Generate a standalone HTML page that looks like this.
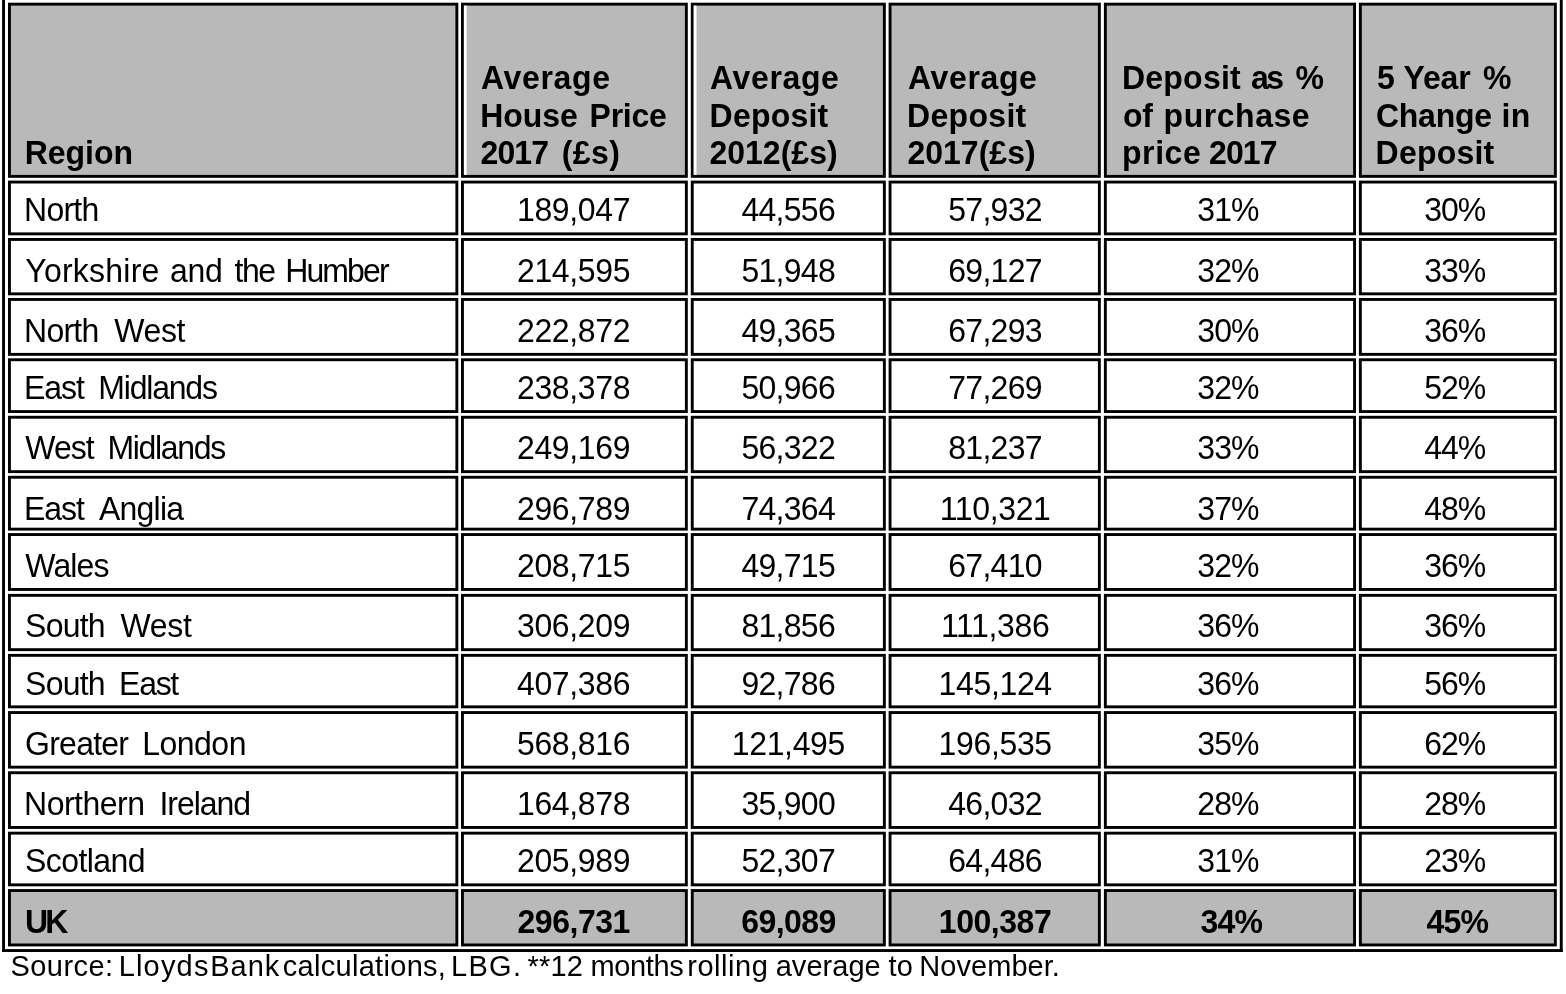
<!DOCTYPE html>
<html lang="en"><head><meta charset="utf-8"><title>Average deposit by region</title>
<style>
html,body{margin:0;padding:0;background:#fff;overflow:hidden}
svg{display:block}
text{font-family:"Liberation Sans",Arial,Helvetica,sans-serif;fill:#000;white-space:pre}
.b{font-weight:bold}
</style></head><body>
<svg width="1566" height="994" viewBox="0 0 1566 994">
<rect width="1566" height="994" fill="#fff"/>
<g fill="#000">
<rect x="2.1" y="0" width="2.9" height="952"/>
<rect x="1559.8" y="0" width="2.9" height="952"/>
<rect x="2.1" y="949.1" width="1560.6" height="2.9"/>
</g>
<rect x="8.0" y="2.7" width="450.3" height="175.1" fill="#000"/><rect x="10.9" y="5.6" width="444.5" height="169.3" fill="#b9b9b9"/>
<rect x="461.0" y="2.7" width="226.8" height="175.1" fill="#000"/><rect x="463.9" y="5.6" width="221.0" height="169.3" fill="#b9b9b9"/>
<rect x="463.9" y="5.6" width="2.8" height="169.3" fill="#fff"/>
<rect x="690.8" y="2.7" width="195.0" height="175.1" fill="#000"/><rect x="693.7" y="5.6" width="189.2" height="169.3" fill="#b9b9b9"/>
<rect x="693.7" y="5.6" width="2.8" height="169.3" fill="#fff"/>
<rect x="888.6" y="2.7" width="212.2" height="175.1" fill="#000"/><rect x="891.5" y="5.6" width="206.4" height="169.3" fill="#b9b9b9"/>
<rect x="1103.9" y="2.7" width="252.1" height="175.1" fill="#000"/><rect x="1106.8" y="5.6" width="246.3" height="169.3" fill="#b9b9b9"/>
<rect x="1358.9" y="2.7" width="197.9" height="175.1" fill="#000"/><rect x="1361.8" y="5.6" width="192.1" height="169.3" fill="#b9b9b9"/>
<rect x="8.0" y="180.6" width="450.3" height="54.7" fill="#000"/><rect x="10.9" y="183.5" width="444.5" height="48.9" fill="#fff"/>
<rect x="461.0" y="180.6" width="226.8" height="54.7" fill="#000"/><rect x="463.9" y="183.5" width="221.0" height="48.9" fill="#fff"/>
<rect x="690.8" y="180.6" width="195.0" height="54.7" fill="#000"/><rect x="693.7" y="183.5" width="189.2" height="48.9" fill="#fff"/>
<rect x="888.6" y="180.6" width="212.2" height="54.7" fill="#000"/><rect x="891.5" y="183.5" width="206.4" height="48.9" fill="#fff"/>
<rect x="1103.9" y="180.6" width="252.1" height="54.7" fill="#000"/><rect x="1106.8" y="183.5" width="246.3" height="48.9" fill="#fff"/>
<rect x="1358.9" y="180.6" width="197.9" height="54.7" fill="#000"/><rect x="1361.8" y="183.5" width="192.1" height="48.9" fill="#fff"/>
<rect x="8.0" y="238.0" width="450.3" height="57.3" fill="#000"/><rect x="10.9" y="240.9" width="444.5" height="51.5" fill="#fff"/>
<rect x="461.0" y="238.0" width="226.8" height="57.3" fill="#000"/><rect x="463.9" y="240.9" width="221.0" height="51.5" fill="#fff"/>
<rect x="690.8" y="238.0" width="195.0" height="57.3" fill="#000"/><rect x="693.7" y="240.9" width="189.2" height="51.5" fill="#fff"/>
<rect x="888.6" y="238.0" width="212.2" height="57.3" fill="#000"/><rect x="891.5" y="240.9" width="206.4" height="51.5" fill="#fff"/>
<rect x="1103.9" y="238.0" width="252.1" height="57.3" fill="#000"/><rect x="1106.8" y="240.9" width="246.3" height="51.5" fill="#fff"/>
<rect x="1358.9" y="238.0" width="197.9" height="57.3" fill="#000"/><rect x="1361.8" y="240.9" width="192.1" height="51.5" fill="#fff"/>
<rect x="8.0" y="298.0" width="450.3" height="57.8" fill="#000"/><rect x="10.9" y="300.9" width="444.5" height="52.0" fill="#fff"/>
<rect x="461.0" y="298.0" width="226.8" height="57.8" fill="#000"/><rect x="463.9" y="300.9" width="221.0" height="52.0" fill="#fff"/>
<rect x="690.8" y="298.0" width="195.0" height="57.8" fill="#000"/><rect x="693.7" y="300.9" width="189.2" height="52.0" fill="#fff"/>
<rect x="888.6" y="298.0" width="212.2" height="57.8" fill="#000"/><rect x="891.5" y="300.9" width="206.4" height="52.0" fill="#fff"/>
<rect x="1103.9" y="298.0" width="252.1" height="57.8" fill="#000"/><rect x="1106.8" y="300.9" width="246.3" height="52.0" fill="#fff"/>
<rect x="1358.9" y="298.0" width="197.9" height="57.8" fill="#000"/><rect x="1361.8" y="300.9" width="192.1" height="52.0" fill="#fff"/>
<rect x="8.0" y="358.3" width="450.3" height="54.7" fill="#000"/><rect x="10.9" y="361.2" width="444.5" height="48.9" fill="#fff"/>
<rect x="461.0" y="358.3" width="226.8" height="54.7" fill="#000"/><rect x="463.9" y="361.2" width="221.0" height="48.9" fill="#fff"/>
<rect x="690.8" y="358.3" width="195.0" height="54.7" fill="#000"/><rect x="693.7" y="361.2" width="189.2" height="48.9" fill="#fff"/>
<rect x="888.6" y="358.3" width="212.2" height="54.7" fill="#000"/><rect x="891.5" y="361.2" width="206.4" height="48.9" fill="#fff"/>
<rect x="1103.9" y="358.3" width="252.1" height="54.7" fill="#000"/><rect x="1106.8" y="361.2" width="246.3" height="48.9" fill="#fff"/>
<rect x="1358.9" y="358.3" width="197.9" height="54.7" fill="#000"/><rect x="1361.8" y="361.2" width="192.1" height="48.9" fill="#fff"/>
<rect x="8.0" y="415.8" width="450.3" height="57.3" fill="#000"/><rect x="10.9" y="418.7" width="444.5" height="51.5" fill="#fff"/>
<rect x="461.0" y="415.8" width="226.8" height="57.3" fill="#000"/><rect x="463.9" y="418.7" width="221.0" height="51.5" fill="#fff"/>
<rect x="690.8" y="415.8" width="195.0" height="57.3" fill="#000"/><rect x="693.7" y="418.7" width="189.2" height="51.5" fill="#fff"/>
<rect x="888.6" y="415.8" width="212.2" height="57.3" fill="#000"/><rect x="891.5" y="418.7" width="206.4" height="51.5" fill="#fff"/>
<rect x="1103.9" y="415.8" width="252.1" height="57.3" fill="#000"/><rect x="1106.8" y="418.7" width="246.3" height="51.5" fill="#fff"/>
<rect x="1358.9" y="415.8" width="197.9" height="57.3" fill="#000"/><rect x="1361.8" y="418.7" width="192.1" height="51.5" fill="#fff"/>
<rect x="8.0" y="475.8" width="450.3" height="54.8" fill="#000"/><rect x="10.9" y="478.7" width="444.5" height="49.0" fill="#fff"/>
<rect x="461.0" y="475.8" width="226.8" height="54.8" fill="#000"/><rect x="463.9" y="478.7" width="221.0" height="49.0" fill="#fff"/>
<rect x="690.8" y="475.8" width="195.0" height="54.8" fill="#000"/><rect x="693.7" y="478.7" width="189.2" height="49.0" fill="#fff"/>
<rect x="888.6" y="475.8" width="212.2" height="54.8" fill="#000"/><rect x="891.5" y="478.7" width="206.4" height="49.0" fill="#fff"/>
<rect x="1103.9" y="475.8" width="252.1" height="54.8" fill="#000"/><rect x="1106.8" y="478.7" width="246.3" height="49.0" fill="#fff"/>
<rect x="1358.9" y="475.8" width="197.9" height="54.8" fill="#000"/><rect x="1361.8" y="478.7" width="192.1" height="49.0" fill="#fff"/>
<rect x="8.0" y="533.1" width="450.3" height="57.8" fill="#000"/><rect x="10.9" y="536.0" width="444.5" height="52.0" fill="#fff"/>
<rect x="461.0" y="533.1" width="226.8" height="57.8" fill="#000"/><rect x="463.9" y="536.0" width="221.0" height="52.0" fill="#fff"/>
<rect x="690.8" y="533.1" width="195.0" height="57.8" fill="#000"/><rect x="693.7" y="536.0" width="189.2" height="52.0" fill="#fff"/>
<rect x="888.6" y="533.1" width="212.2" height="57.8" fill="#000"/><rect x="891.5" y="536.0" width="206.4" height="52.0" fill="#fff"/>
<rect x="1103.9" y="533.1" width="252.1" height="57.8" fill="#000"/><rect x="1106.8" y="536.0" width="246.3" height="52.0" fill="#fff"/>
<rect x="1358.9" y="533.1" width="197.9" height="57.8" fill="#000"/><rect x="1361.8" y="536.0" width="192.1" height="52.0" fill="#fff"/>
<rect x="8.0" y="593.9" width="450.3" height="57.2" fill="#000"/><rect x="10.9" y="596.8" width="444.5" height="51.4" fill="#fff"/>
<rect x="461.0" y="593.9" width="226.8" height="57.2" fill="#000"/><rect x="463.9" y="596.8" width="221.0" height="51.4" fill="#fff"/>
<rect x="690.8" y="593.9" width="195.0" height="57.2" fill="#000"/><rect x="693.7" y="596.8" width="189.2" height="51.4" fill="#fff"/>
<rect x="888.6" y="593.9" width="212.2" height="57.2" fill="#000"/><rect x="891.5" y="596.8" width="206.4" height="51.4" fill="#fff"/>
<rect x="1103.9" y="593.9" width="252.1" height="57.2" fill="#000"/><rect x="1106.8" y="596.8" width="246.3" height="51.4" fill="#fff"/>
<rect x="1358.9" y="593.9" width="197.9" height="57.2" fill="#000"/><rect x="1361.8" y="596.8" width="192.1" height="51.4" fill="#fff"/>
<rect x="8.0" y="653.9" width="450.3" height="54.4" fill="#000"/><rect x="10.9" y="656.8" width="444.5" height="48.6" fill="#fff"/>
<rect x="461.0" y="653.9" width="226.8" height="54.4" fill="#000"/><rect x="463.9" y="656.8" width="221.0" height="48.6" fill="#fff"/>
<rect x="690.8" y="653.9" width="195.0" height="54.4" fill="#000"/><rect x="693.7" y="656.8" width="189.2" height="48.6" fill="#fff"/>
<rect x="888.6" y="653.9" width="212.2" height="54.4" fill="#000"/><rect x="891.5" y="656.8" width="206.4" height="48.6" fill="#fff"/>
<rect x="1103.9" y="653.9" width="252.1" height="54.4" fill="#000"/><rect x="1106.8" y="656.8" width="246.3" height="48.6" fill="#fff"/>
<rect x="1358.9" y="653.9" width="197.9" height="54.4" fill="#000"/><rect x="1361.8" y="656.8" width="192.1" height="48.6" fill="#fff"/>
<rect x="8.0" y="711.1" width="450.3" height="57.5" fill="#000"/><rect x="10.9" y="714.0" width="444.5" height="51.7" fill="#fff"/>
<rect x="461.0" y="711.1" width="226.8" height="57.5" fill="#000"/><rect x="463.9" y="714.0" width="221.0" height="51.7" fill="#fff"/>
<rect x="690.8" y="711.1" width="195.0" height="57.5" fill="#000"/><rect x="693.7" y="714.0" width="189.2" height="51.7" fill="#fff"/>
<rect x="888.6" y="711.1" width="212.2" height="57.5" fill="#000"/><rect x="891.5" y="714.0" width="206.4" height="51.7" fill="#fff"/>
<rect x="1103.9" y="711.1" width="252.1" height="57.5" fill="#000"/><rect x="1106.8" y="714.0" width="246.3" height="51.7" fill="#fff"/>
<rect x="1358.9" y="711.1" width="197.9" height="57.5" fill="#000"/><rect x="1361.8" y="714.0" width="192.1" height="51.7" fill="#fff"/>
<rect x="8.0" y="771.3" width="450.3" height="57.6" fill="#000"/><rect x="10.9" y="774.2" width="444.5" height="51.8" fill="#fff"/>
<rect x="461.0" y="771.3" width="226.8" height="57.6" fill="#000"/><rect x="463.9" y="774.2" width="221.0" height="51.8" fill="#fff"/>
<rect x="690.8" y="771.3" width="195.0" height="57.6" fill="#000"/><rect x="693.7" y="774.2" width="189.2" height="51.8" fill="#fff"/>
<rect x="888.6" y="771.3" width="212.2" height="57.6" fill="#000"/><rect x="891.5" y="774.2" width="206.4" height="51.8" fill="#fff"/>
<rect x="1103.9" y="771.3" width="252.1" height="57.6" fill="#000"/><rect x="1106.8" y="774.2" width="246.3" height="51.8" fill="#fff"/>
<rect x="1358.9" y="771.3" width="197.9" height="57.6" fill="#000"/><rect x="1361.8" y="774.2" width="192.1" height="51.8" fill="#fff"/>
<rect x="8.0" y="831.7" width="450.3" height="54.6" fill="#000"/><rect x="10.9" y="834.6" width="444.5" height="48.8" fill="#fff"/>
<rect x="461.0" y="831.7" width="226.8" height="54.6" fill="#000"/><rect x="463.9" y="834.6" width="221.0" height="48.8" fill="#fff"/>
<rect x="690.8" y="831.7" width="195.0" height="54.6" fill="#000"/><rect x="693.7" y="834.6" width="189.2" height="48.8" fill="#fff"/>
<rect x="888.6" y="831.7" width="212.2" height="54.6" fill="#000"/><rect x="891.5" y="834.6" width="206.4" height="48.8" fill="#fff"/>
<rect x="1103.9" y="831.7" width="252.1" height="54.6" fill="#000"/><rect x="1106.8" y="834.6" width="246.3" height="48.8" fill="#fff"/>
<rect x="1358.9" y="831.7" width="197.9" height="54.6" fill="#000"/><rect x="1361.8" y="834.6" width="192.1" height="48.8" fill="#fff"/>
<rect x="8.0" y="889.1" width="450.3" height="57.3" fill="#000"/><rect x="10.9" y="892.0" width="444.5" height="51.5" fill="#b9b9b9"/>
<rect x="461.0" y="889.1" width="226.8" height="57.3" fill="#000"/><rect x="463.9" y="892.0" width="221.0" height="51.5" fill="#b9b9b9"/>
<rect x="690.8" y="889.1" width="195.0" height="57.3" fill="#000"/><rect x="693.7" y="892.0" width="189.2" height="51.5" fill="#b9b9b9"/>
<rect x="888.6" y="889.1" width="212.2" height="57.3" fill="#000"/><rect x="891.5" y="892.0" width="206.4" height="51.5" fill="#b9b9b9"/>
<rect x="1103.9" y="889.1" width="252.1" height="57.3" fill="#000"/><rect x="1106.8" y="892.0" width="246.3" height="51.5" fill="#b9b9b9"/>
<rect x="1358.9" y="889.1" width="197.9" height="57.3" fill="#000"/><rect x="1361.8" y="892.0" width="192.1" height="51.5" fill="#b9b9b9"/>
<text transform="translate(0 164.0) scale(1 1.04)" y="0" font-size="32" class="b"><tspan x="24.70" letter-spacing="0.002">Region</tspan></text>
<text transform="translate(0 88.9) scale(1 1.04)" y="0" font-size="32" class="b"><tspan x="480.90" letter-spacing="0.681">Average</tspan></text>
<text transform="translate(0 126.7) scale(1 1.04)" y="0" font-size="32" class="b"><tspan x="480.20" letter-spacing="-0.025">House</tspan> <tspan x="589.60" letter-spacing="-0.271">Price</tspan></text>
<text transform="translate(0 164.0) scale(1 1.04)" y="0" font-size="32" class="b"><tspan x="480.60" letter-spacing="-0.930">2017</tspan> <tspan x="561.70" letter-spacing="0.450">(£s)</tspan></text>
<text transform="translate(0 88.9) scale(1 1.04)" y="0" font-size="32" class="b"><tspan x="710.00" letter-spacing="0.648">Average</tspan></text>
<text transform="translate(0 126.7) scale(1 1.04)" y="0" font-size="32" class="b"><tspan x="709.60" letter-spacing="0.235">Deposit</tspan></text>
<text transform="translate(0 164.0) scale(1 1.04)" y="0" font-size="32" class="b"><tspan x="709.40" letter-spacing="0.038">2012(£s)</tspan></text>
<text transform="translate(0 88.9) scale(1 1.04)" y="0" font-size="32" class="b"><tspan x="908.00" letter-spacing="0.648">Average</tspan></text>
<text transform="translate(0 126.7) scale(1 1.04)" y="0" font-size="32" class="b"><tspan x="907.10" letter-spacing="0.319">Deposit</tspan></text>
<text transform="translate(0 164.0) scale(1 1.04)" y="0" font-size="32" class="b"><tspan x="907.40" letter-spacing="0.037">2017(£s)</tspan></text>
<text transform="translate(0 88.9) scale(1 1.04)" y="0" font-size="32" class="b"><tspan x="1122.00" letter-spacing="0.235">Deposit</tspan> <tspan x="1251.10" letter-spacing="-2.597">as</tspan> <tspan x="1295.60" letter-spacing="0.000">%</tspan></text>
<text transform="translate(0 126.7) scale(1 1.04)" y="0" font-size="32" class="b"><tspan x="1123.00" letter-spacing="-0.247">of</tspan> <tspan x="1163.60" letter-spacing="0.545">purchase</tspan></text>
<text transform="translate(0 164.0) scale(1 1.04)" y="0" font-size="32" class="b"><tspan x="1122.00" letter-spacing="0.578">price</tspan> <tspan x="1209.00" letter-spacing="-0.897">2017</tspan></text>
<text transform="translate(0 88.9) scale(1 1.04)" y="0" font-size="32" class="b"><tspan x="1376.90" letter-spacing="0.000">5</tspan> <tspan x="1403.60" letter-spacing="-0.191">Year</tspan> <tspan x="1482.90" letter-spacing="0.000">%</tspan></text>
<text transform="translate(0 126.7) scale(1 1.04)" y="0" font-size="32" class="b"><tspan x="1375.90" letter-spacing="-0.229">Change</tspan> <tspan x="1501.60" letter-spacing="0.209">in</tspan></text>
<text transform="translate(0 164.0) scale(1 1.04)" y="0" font-size="32" class="b"><tspan x="1375.60" letter-spacing="0.235">Deposit</tspan></text>
<text transform="translate(0 221.1) scale(1 1.04)" y="0" font-size="32"><tspan x="24.10" letter-spacing="-0.763">North</tspan></text>
<text transform="translate(0 221.1) scale(1 1.04)" y="0" font-size="32"><tspan x="517.01" letter-spacing="-0.350">189,047</tspan></text>
<text transform="translate(0 221.1) scale(1 1.04)" y="0" font-size="32"><tspan x="741.41" letter-spacing="-0.700">44,556</tspan></text>
<text transform="translate(0 221.1) scale(1 1.04)" y="0" font-size="32"><tspan x="948.21" letter-spacing="-0.700">57,932</tspan></text>
<text transform="translate(0 221.1) scale(1 1.04)" y="0" font-size="32"><tspan x="1197.38" letter-spacing="-1.000">31%</tspan></text>
<text transform="translate(0 221.1) scale(1 1.04)" y="0" font-size="32"><tspan x="1424.18" letter-spacing="-1.000">30%</tspan></text>
<text transform="translate(0 281.6) scale(1 1.04)" y="0" font-size="32"><tspan x="25.30" letter-spacing="0.235">Yorkshire</tspan> <tspan x="170.10" letter-spacing="-0.297">and</tspan> <tspan x="234.40" letter-spacing="-1.394">the</tspan> <tspan x="285.20" letter-spacing="-1.871">Humber</tspan></text>
<text transform="translate(0 281.6) scale(1 1.04)" y="0" font-size="32"><tspan x="517.01" letter-spacing="-0.350">214,595</tspan></text>
<text transform="translate(0 281.6) scale(1 1.04)" y="0" font-size="32"><tspan x="741.41" letter-spacing="-0.700">51,948</tspan></text>
<text transform="translate(0 281.6) scale(1 1.04)" y="0" font-size="32"><tspan x="948.21" letter-spacing="-0.700">69,127</tspan></text>
<text transform="translate(0 281.6) scale(1 1.04)" y="0" font-size="32"><tspan x="1197.38" letter-spacing="-1.000">32%</tspan></text>
<text transform="translate(0 281.6) scale(1 1.04)" y="0" font-size="32"><tspan x="1424.18" letter-spacing="-1.000">33%</tspan></text>
<text transform="translate(0 342.0) scale(1 1.04)" y="0" font-size="32"><tspan x="24.10" letter-spacing="-0.763">North</tspan> <tspan x="114.20" letter-spacing="-0.341">West</tspan></text>
<text transform="translate(0 342.0) scale(1 1.04)" y="0" font-size="32"><tspan x="517.01" letter-spacing="-0.350">222,872</tspan></text>
<text transform="translate(0 342.0) scale(1 1.04)" y="0" font-size="32"><tspan x="741.41" letter-spacing="-0.700">49,365</tspan></text>
<text transform="translate(0 342.0) scale(1 1.04)" y="0" font-size="32"><tspan x="948.21" letter-spacing="-0.700">67,293</tspan></text>
<text transform="translate(0 342.0) scale(1 1.04)" y="0" font-size="32"><tspan x="1197.38" letter-spacing="-1.000">30%</tspan></text>
<text transform="translate(0 342.0) scale(1 1.04)" y="0" font-size="32"><tspan x="1424.18" letter-spacing="-1.000">36%</tspan></text>
<text transform="translate(0 398.9) scale(1 1.04)" y="0" font-size="32"><tspan x="24.10" letter-spacing="-1.080">East</tspan> <tspan x="98.30" letter-spacing="-1.195">Midlands</tspan></text>
<text transform="translate(0 398.9) scale(1 1.04)" y="0" font-size="32"><tspan x="517.01" letter-spacing="-0.350">238,378</tspan></text>
<text transform="translate(0 398.9) scale(1 1.04)" y="0" font-size="32"><tspan x="741.41" letter-spacing="-0.700">50,966</tspan></text>
<text transform="translate(0 398.9) scale(1 1.04)" y="0" font-size="32"><tspan x="948.21" letter-spacing="-0.700">77,269</tspan></text>
<text transform="translate(0 398.9) scale(1 1.04)" y="0" font-size="32"><tspan x="1197.38" letter-spacing="-1.000">32%</tspan></text>
<text transform="translate(0 398.9) scale(1 1.04)" y="0" font-size="32"><tspan x="1424.18" letter-spacing="-1.000">52%</tspan></text>
<text transform="translate(0 458.9) scale(1 1.04)" y="0" font-size="32"><tspan x="25.30" letter-spacing="-1.007">West</tspan> <tspan x="107.40" letter-spacing="-1.309">Midlands</tspan></text>
<text transform="translate(0 458.9) scale(1 1.04)" y="0" font-size="32"><tspan x="517.01" letter-spacing="-0.350">249,169</tspan></text>
<text transform="translate(0 458.9) scale(1 1.04)" y="0" font-size="32"><tspan x="741.41" letter-spacing="-0.700">56,322</tspan></text>
<text transform="translate(0 458.9) scale(1 1.04)" y="0" font-size="32"><tspan x="948.21" letter-spacing="-0.700">81,237</tspan></text>
<text transform="translate(0 458.9) scale(1 1.04)" y="0" font-size="32"><tspan x="1197.38" letter-spacing="-1.000">33%</tspan></text>
<text transform="translate(0 458.9) scale(1 1.04)" y="0" font-size="32"><tspan x="1424.18" letter-spacing="-1.000">44%</tspan></text>
<text transform="translate(0 520.0) scale(1 1.04)" y="0" font-size="32"><tspan x="24.10" letter-spacing="-1.080">East</tspan> <tspan x="98.90" letter-spacing="-0.731">Anglia</tspan></text>
<text transform="translate(0 520.0) scale(1 1.04)" y="0" font-size="32"><tspan x="517.01" letter-spacing="-0.350">296,789</tspan></text>
<text transform="translate(0 520.0) scale(1 1.04)" y="0" font-size="32"><tspan x="741.41" letter-spacing="-0.700">74,364</tspan></text>
<text transform="translate(0 520.0) scale(1 1.04)" y="0" font-size="32"><tspan x="939.80" letter-spacing="-0.350">110,321</tspan></text>
<text transform="translate(0 520.0) scale(1 1.04)" y="0" font-size="32"><tspan x="1197.38" letter-spacing="-1.000">37%</tspan></text>
<text transform="translate(0 520.0) scale(1 1.04)" y="0" font-size="32"><tspan x="1424.18" letter-spacing="-1.000">48%</tspan></text>
<text transform="translate(0 576.9) scale(1 1.04)" y="0" font-size="32"><tspan x="25.30" letter-spacing="-0.855">Wales</tspan></text>
<text transform="translate(0 576.9) scale(1 1.04)" y="0" font-size="32"><tspan x="517.01" letter-spacing="-0.350">208,715</tspan></text>
<text transform="translate(0 576.9) scale(1 1.04)" y="0" font-size="32"><tspan x="741.41" letter-spacing="-0.700">49,715</tspan></text>
<text transform="translate(0 576.9) scale(1 1.04)" y="0" font-size="32"><tspan x="948.21" letter-spacing="-0.700">67,410</tspan></text>
<text transform="translate(0 576.9) scale(1 1.04)" y="0" font-size="32"><tspan x="1197.38" letter-spacing="-1.000">32%</tspan></text>
<text transform="translate(0 576.9) scale(1 1.04)" y="0" font-size="32"><tspan x="1424.18" letter-spacing="-1.000">36%</tspan></text>
<text transform="translate(0 637.2) scale(1 1.04)" y="0" font-size="32"><tspan x="25.10" letter-spacing="-0.757">South</tspan> <tspan x="120.60" letter-spacing="-0.341">West</tspan></text>
<text transform="translate(0 637.2) scale(1 1.04)" y="0" font-size="32"><tspan x="517.01" letter-spacing="-0.350">306,209</tspan></text>
<text transform="translate(0 637.2) scale(1 1.04)" y="0" font-size="32"><tspan x="741.41" letter-spacing="-0.700">81,856</tspan></text>
<text transform="translate(0 637.2) scale(1 1.04)" y="0" font-size="32"><tspan x="940.99" letter-spacing="-0.350">111,386</tspan></text>
<text transform="translate(0 637.2) scale(1 1.04)" y="0" font-size="32"><tspan x="1197.38" letter-spacing="-1.000">36%</tspan></text>
<text transform="translate(0 637.2) scale(1 1.04)" y="0" font-size="32"><tspan x="1424.18" letter-spacing="-1.000">36%</tspan></text>
<text transform="translate(0 695.0) scale(1 1.04)" y="0" font-size="32"><tspan x="25.10" letter-spacing="-0.757">South</tspan> <tspan x="119.10" letter-spacing="-1.280">East</tspan></text>
<text transform="translate(0 695.0) scale(1 1.04)" y="0" font-size="32"><tspan x="517.01" letter-spacing="-0.350">407,386</tspan></text>
<text transform="translate(0 695.0) scale(1 1.04)" y="0" font-size="32"><tspan x="741.41" letter-spacing="-0.700">92,786</tspan></text>
<text transform="translate(0 695.0) scale(1 1.04)" y="0" font-size="32"><tspan x="938.61" letter-spacing="-0.350">145,124</tspan></text>
<text transform="translate(0 695.0) scale(1 1.04)" y="0" font-size="32"><tspan x="1197.38" letter-spacing="-1.000">36%</tspan></text>
<text transform="translate(0 695.0) scale(1 1.04)" y="0" font-size="32"><tspan x="1424.18" letter-spacing="-1.000">56%</tspan></text>
<text transform="translate(0 755.0) scale(1 1.04)" y="0" font-size="32"><tspan x="25.10" letter-spacing="-0.755">Greater</tspan> <tspan x="142.20" letter-spacing="-0.497">London</tspan></text>
<text transform="translate(0 755.0) scale(1 1.04)" y="0" font-size="32"><tspan x="517.01" letter-spacing="-0.350">568,816</tspan></text>
<text transform="translate(0 755.0) scale(1 1.04)" y="0" font-size="32"><tspan x="731.81" letter-spacing="-0.350">121,495</tspan></text>
<text transform="translate(0 755.0) scale(1 1.04)" y="0" font-size="32"><tspan x="938.61" letter-spacing="-0.350">196,535</tspan></text>
<text transform="translate(0 755.0) scale(1 1.04)" y="0" font-size="32"><tspan x="1197.38" letter-spacing="-1.000">35%</tspan></text>
<text transform="translate(0 755.0) scale(1 1.04)" y="0" font-size="32"><tspan x="1424.18" letter-spacing="-1.000">62%</tspan></text>
<text transform="translate(0 815.0) scale(1 1.04)" y="0" font-size="32"><tspan x="24.10" letter-spacing="-0.500">Northern</tspan> <tspan x="159.40" letter-spacing="-1.008">Ireland</tspan></text>
<text transform="translate(0 815.0) scale(1 1.04)" y="0" font-size="32"><tspan x="517.01" letter-spacing="-0.350">164,878</tspan></text>
<text transform="translate(0 815.0) scale(1 1.04)" y="0" font-size="32"><tspan x="741.41" letter-spacing="-0.700">35,900</tspan></text>
<text transform="translate(0 815.0) scale(1 1.04)" y="0" font-size="32"><tspan x="948.21" letter-spacing="-0.700">46,032</tspan></text>
<text transform="translate(0 815.0) scale(1 1.04)" y="0" font-size="32"><tspan x="1197.38" letter-spacing="-1.000">28%</tspan></text>
<text transform="translate(0 815.0) scale(1 1.04)" y="0" font-size="32"><tspan x="1424.18" letter-spacing="-1.000">28%</tspan></text>
<text transform="translate(0 872.0) scale(1 1.04)" y="0" font-size="32"><tspan x="25.10" letter-spacing="-0.562">Scotland</tspan></text>
<text transform="translate(0 872.0) scale(1 1.04)" y="0" font-size="32"><tspan x="517.01" letter-spacing="-0.350">205,989</tspan></text>
<text transform="translate(0 872.0) scale(1 1.04)" y="0" font-size="32"><tspan x="741.41" letter-spacing="-0.700">52,307</tspan></text>
<text transform="translate(0 872.0) scale(1 1.04)" y="0" font-size="32"><tspan x="948.21" letter-spacing="-0.700">64,486</tspan></text>
<text transform="translate(0 872.0) scale(1 1.04)" y="0" font-size="32"><tspan x="1197.38" letter-spacing="-1.000">31%</tspan></text>
<text transform="translate(0 872.0) scale(1 1.04)" y="0" font-size="32"><tspan x="1424.18" letter-spacing="-1.000">23%</tspan></text>
<text transform="translate(0 932.9) scale(1 1.04)" y="0" font-size="32" class="b"><tspan x="25.10" letter-spacing="-3.009">UK</tspan></text>
<text transform="translate(0 932.9) scale(1 1.04)" y="0" font-size="32" class="b"><tspan x="517.51" letter-spacing="-0.450">296,731</tspan></text>
<text transform="translate(0 932.9) scale(1 1.04)" y="0" font-size="32" class="b"><tspan x="741.24" letter-spacing="-0.550">69,089</tspan></text>
<text transform="translate(0 932.9) scale(1 1.04)" y="0" font-size="32" class="b"><tspan x="938.81" letter-spacing="-0.450">100,387</tspan></text>
<text transform="translate(0 932.9) scale(1 1.04)" y="0" font-size="32" class="b"><tspan x="1200.48" letter-spacing="-0.800">34%</tspan></text>
<text transform="translate(0 932.9) scale(1 1.04)" y="0" font-size="32" class="b"><tspan x="1426.58" letter-spacing="-0.800">45%</tspan></text>
<text transform="translate(0 975.8) scale(1 1.04)" y="0" font-size="29"><tspan x="10.50" letter-spacing="0.452">Source:</tspan> <tspan x="118.70" letter-spacing="1.174">Lloyds</tspan> <tspan x="210.30" letter-spacing="0.933">Bank</tspan> <tspan x="282.80" letter-spacing="0.298">calculations,</tspan> <tspan x="451.00" letter-spacing="1.324">LBG.</tspan> <tspan x="527.60" letter-spacing="0.167">**12</tspan> <tspan x="590.40" letter-spacing="-0.320">months</tspan> <tspan x="687.20" letter-spacing="0.543">rolling</tspan> <tspan x="775.70" letter-spacing="0.038">average</tspan> <tspan x="888.40" letter-spacing="0.343">to</tspan> <tspan x="919.30" letter-spacing="0.054">November.</tspan></text>
</svg>
</body></html>
